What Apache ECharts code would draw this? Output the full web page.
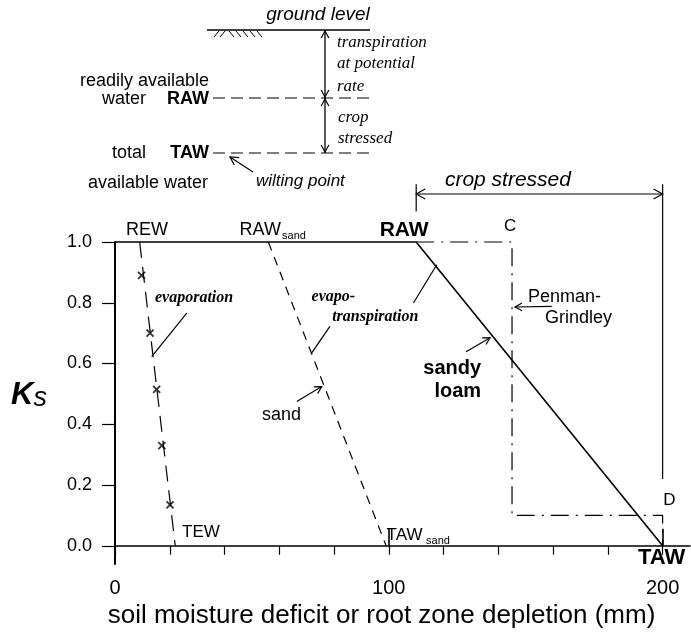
<!DOCTYPE html>
<html>
<head>
<meta charset="utf-8">
<script src="https://cdn.jsdelivr.net/npm/echarts@6/dist/echarts.min.js"></script>
<style>
html, body { margin: 0; padding: 0; background: #fff; }
#chart { width: 691px; height: 636px; }
</style>
</head>
<body>
<div id="chart"></div>
<script>
// Ks curves (x = depletion mm, y = Ks)
var sandyLoam = [[0, 1], [110, 1], [200, 0]];
var sand = [[56, 1], [99, 0]];
var evaporation = [[9, 1], [22, 0]];
var evapPoints = [[9.7, 0.89], [12.8, 0.70], [15.2, 0.515], [17.1, 0.33], [20.1, 0.135]];
var penman = [[110, 1], [145, 1], [145, 0.1], [200, 0.1], [200, 0]];
var bracketLeft = [[110, 1.10], [110, 1.19]];
var bracketRight = [[200, 1.19], [200, 0.22]];
var cropStressed = [110, 200, 1.158]; // arrow from RAW to TAW, at this Ks height

// ticks
var xTicks = [0, 20, 40, 60, 80, 100, 120, 140, 160, 180, 200];
var xMajorTicks = [100, 200];
var xLabels = [0, 100, 200];
var yTicks = [0, 0.2, 0.4, 0.6, 0.8, 1.0];

var sans = '"Liberation Sans", Arial, sans-serif';
var serif = '"Liberation Serif", "Times New Roman", serif';

var myChart = echarts.init(document.getElementById('chart'));

function lineSeries(data, dash, width) {
    return {
        type: 'line',
        data: data,
        symbol: 'none',
        clip: false,
        silent: true,
        lineStyle: { color: '#000', width: width || 1.2, type: dash || 'solid' }
    };
}

var option = {
    animation: false,
    backgroundColor: '#fff',
    grid: { left: 115, right: 1, top: 242, bottom: 72, outerBoundsMode: 'none' },
    xAxis: [{
        type: 'value',
        min: 0,
        max: 210,
        axisLine: { onZero: true, lineStyle: { color: '#000', width: 1.6 } },
        axisTick: { customValues: xTicks, length: 9, lineStyle: { color: '#000', width: 1.2 } },
        axisLabel: { customValues: xLabels, color: '#000', fontSize: 20, fontFamily: sans, margin: 14 },
        splitLine: { show: false },
        name: 'soil moisture deficit or root zone depletion (mm)',
        nameLocation: 'middle',
        nameGap: 38,
        nameTextStyle: { color: '#000', fontSize: 26, fontFamily: sans, padding: [0, 42, 0, 0] }
    }, {
        type: 'value',
        min: 0,
        max: 210,
        axisLine: { onZero: true, onZeroAxisIndex: 0, lineStyle: { color: '#000', width: 1.5, opacity: 0 } },
        axisTick: { customValues: xMajorTicks, length: 17, lineStyle: { color: '#000', width: 1.6 } },
        axisLabel: { show: false },
        splitLine: { show: false }
    }],
    yAxis: {
        type: 'value',
        min: -0.06,
        max: 1,
        axisLine: { onZero: false, lineStyle: { color: '#000', width: 2 } },
        axisTick: { customValues: yTicks, length: 13, lineStyle: { color: '#000', width: 1.2 } },
        axisLabel: {
            customValues: yTicks, color: '#000', fontSize: 18, fontFamily: sans, margin: 23,
            formatter: function (v) { return v.toFixed(1); }
        },
        splitLine: { show: false },
        name: '{k|K}{s|s}',
        nameLocation: 'middle',
        nameRotate: 0,
        nameGap: 68,
        nameTextStyle: {
            padding: [0, 0, 16, 0],
            rich: {
                k: { fontSize: 31, fontWeight: 'bold', fontStyle: 'italic', fontFamily: sans, color: '#000' },
                s: { fontSize: 27, fontStyle: 'italic', fontFamily: sans, color: '#000', padding: [6, 0, 0, 0] }
            }
        }
    },
    series: [
        lineSeries(sandyLoam, 'solid', 1.6),
        lineSeries(sand, [9, 7], 1.2),
        lineSeries(evaporation, [16, 9], 1.2),
        lineSeries(penman, [18, 7, 2, 7], 1.2),
        lineSeries(bracketLeft, 'solid', 1.2),
        lineSeries(bracketRight, 'solid', 1.2),
        lineSeries([[cropStressed[0], cropStressed[2]], [cropStressed[1], cropStressed[2]]], 'solid', 1.2),
        {
            type: 'scatter',
            data: evapPoints,
            symbol: 'path://M0,0L10,10M10,0L0,10',
            symbolSize: 7,
            silent: true,
            itemStyle: { color: 'none', borderColor: '#000', borderWidth: 1.8 }
        }
    ]
};
myChart.setOption(option);

// ---- annotations ----
function P(x, y) { return myChart.convertToPixel({ gridIndex: 0 }, [x, y]); }

function text(p, s, font, align) {
    return {
        type: 'text', x: p[0], y: p[1], silent: true,
        style: { text: s, font: font, fill: '#000', align: align || 'left', verticalAlign: 'middle' }
    };
}
function seg(a, b, dash, w) {
    return {
        type: 'line', silent: true,
        shape: { x1: a[0], y1: a[1], x2: b[0], y2: b[1] },
        style: { stroke: '#000', lineWidth: w || 1.2, lineDash: dash || null }
    };
}
function head(a, b, size) {
    var dx = b[0] - a[0], dy = b[1] - a[1], L = Math.sqrt(dx * dx + dy * dy);
    var ux = dx / L, uy = dy / L, h = size || 7, w = h * 0.55;
    return {
        type: 'polyline', silent: true,
        shape: { points: [[b[0] - ux * h - uy * w, b[1] - uy * h + ux * w], b, [b[0] - ux * h + uy * w, b[1] - uy * h - ux * w]] },
        style: { stroke: '#000', fill: null, lineWidth: 1.2 }
    };
}

var g = [];
var f17 = '17px ' + sans;
var f18 = '18px ' + sans;

// arrow heads of the "crop stressed" span
g.push(head(P(150, cropStressed[2]), P(cropStressed[0], cropStressed[2]), 9));
g.push(head(P(150, cropStressed[2]), P(cropStressed[1], cropStressed[2]), 9));

// labels inside the chart, placed in data coordinates
g.push(text(P(11.7, 1.04), 'REW', f18, 'center'));
g.push(text(P(45.5, 1.04), 'RAW', f18, 'left'));
g.push(text(P(61.0, 1.02), 'sand', '11px ' + sans, 'left'));
g.push(text(P(105.6, 1.04), 'RAW', 'bold 21px ' + sans, 'center'));
g.push(text(P(144.3, 1.053), 'C', f17, 'center'));
g.push(text(P(143.5, 1.205), 'crop stressed', 'italic 21px ' + sans, 'center'));
g.push(text(P(14.6, 0.816), 'evaporation', 'bold italic 16px ' + serif, 'left'));
g.push(text(P(71.8, 0.82), 'evapo-', 'bold italic 16px ' + serif, 'left'));
g.push(text(P(79.3, 0.754), 'transpiration', 'bold italic 16px ' + serif, 'left'));
g.push(text(P(150.8, 0.82), 'Penman-', f18, 'left'));
g.push(text(P(157, 0.75), 'Grindley', f18, 'left'));
g.push(text(P(133.7, 0.583), 'sandy', 'bold 20px ' + sans, 'right'));
g.push(text(P(133.7, 0.507), 'loam', 'bold 20px ' + sans, 'right'));
g.push(text(P(53.7, 0.431), 'sand', f18, 'left'));
g.push(text(P(24.5, 0.043), 'TEW', f17, 'left'));
g.push(text(P(99.2, 0.036), 'TAW', f17, 'left'));
g.push(text(P(113.6, 0.016), 'sand', '11px ' + sans, 'left'));
g.push(text(P(200.2, 0.151), 'D', f17, 'left'));
g.push(text(P(191, -0.04), 'TAW', 'bold 22px ' + sans, 'left'));

// leader lines and arrows
g.push(seg(P(26.2, 0.766), P(13.4, 0.623)));
g.push(seg(P(78.5, 0.722), P(71.8, 0.634)));
g.push(seg(P(109, 0.799), P(117.5, 0.925)));
g.push(seg(P(159.5, 0.788), P(146.1, 0.786)));
g.push(head(P(159.5, 0.788), P(146.1, 0.786)));
g.push(seg(P(128.2, 0.639), P(137, 0.685)));
g.push(head(P(128.2, 0.639), P(137, 0.685)));
g.push(seg(P(66.4, 0.475), P(75.5, 0.524)));
g.push(head(P(66.4, 0.475), P(75.5, 0.524)));

// schematic of the soil profile (top left)
g.push(text([318, 15], 'ground level', 'italic 19px ' + sans, 'center'));
g.push(seg([207, 30], [370, 30], null, 1.5));
[[214, 37, 219, 31], [220, 37, 225, 31], [229, 31, 234, 37], [236, 31, 241, 37], [243, 31, 248, 37], [250, 31, 255, 37], [257, 31, 262, 37]].forEach(function (h) {
    g.push(seg([h[0], h[1]], [h[2], h[3]], null, 1));
});
g.push(seg([213, 98], [370, 98], [12, 6], 1.2));
g.push(seg([213, 153], [370, 153], [12, 6], 1.2));
g.push(seg([325, 30], [325, 98], null, 1.3));
g.push(head([325, 60], [325, 31], 7));
g.push(head([325, 60], [325, 97], 7));
g.push(seg([325, 98], [325, 153], null, 1.3));
g.push(head([325, 125], [325, 99], 7));
g.push(head([325, 125], [325, 152], 7));
var it17 = 'italic 17px ' + serif;
g.push(text([337, 43], 'transpiration', it17, 'left'));
g.push(text([337, 64], 'at potential', it17, 'left'));
g.push(text([337, 87], 'rate', it17, 'left'));
g.push(text([338, 118], 'crop', it17, 'left'));
g.push(text([338, 139], 'stressed', it17, 'left'));
g.push(text([209, 81], 'readily available', f18, 'right'));
g.push(text([146, 99], 'water', f18, 'right'));
g.push(text([209, 99], 'RAW', 'bold 18px ' + sans, 'right'));
g.push(text([146, 153], 'total', f18, 'right'));
g.push(text([209, 153], 'TAW', 'bold 18px ' + sans, 'right'));
g.push(text([208, 183], 'available water', f18, 'right'));
g.push(text([256, 181], 'wilting point', 'italic 17px ' + sans, 'left'));
g.push(seg([253, 172], [230, 157]));
g.push(head([253, 172], [230, 157], 8));

myChart.setOption({ graphic: { elements: g } });
</script>
</body>
</html>
